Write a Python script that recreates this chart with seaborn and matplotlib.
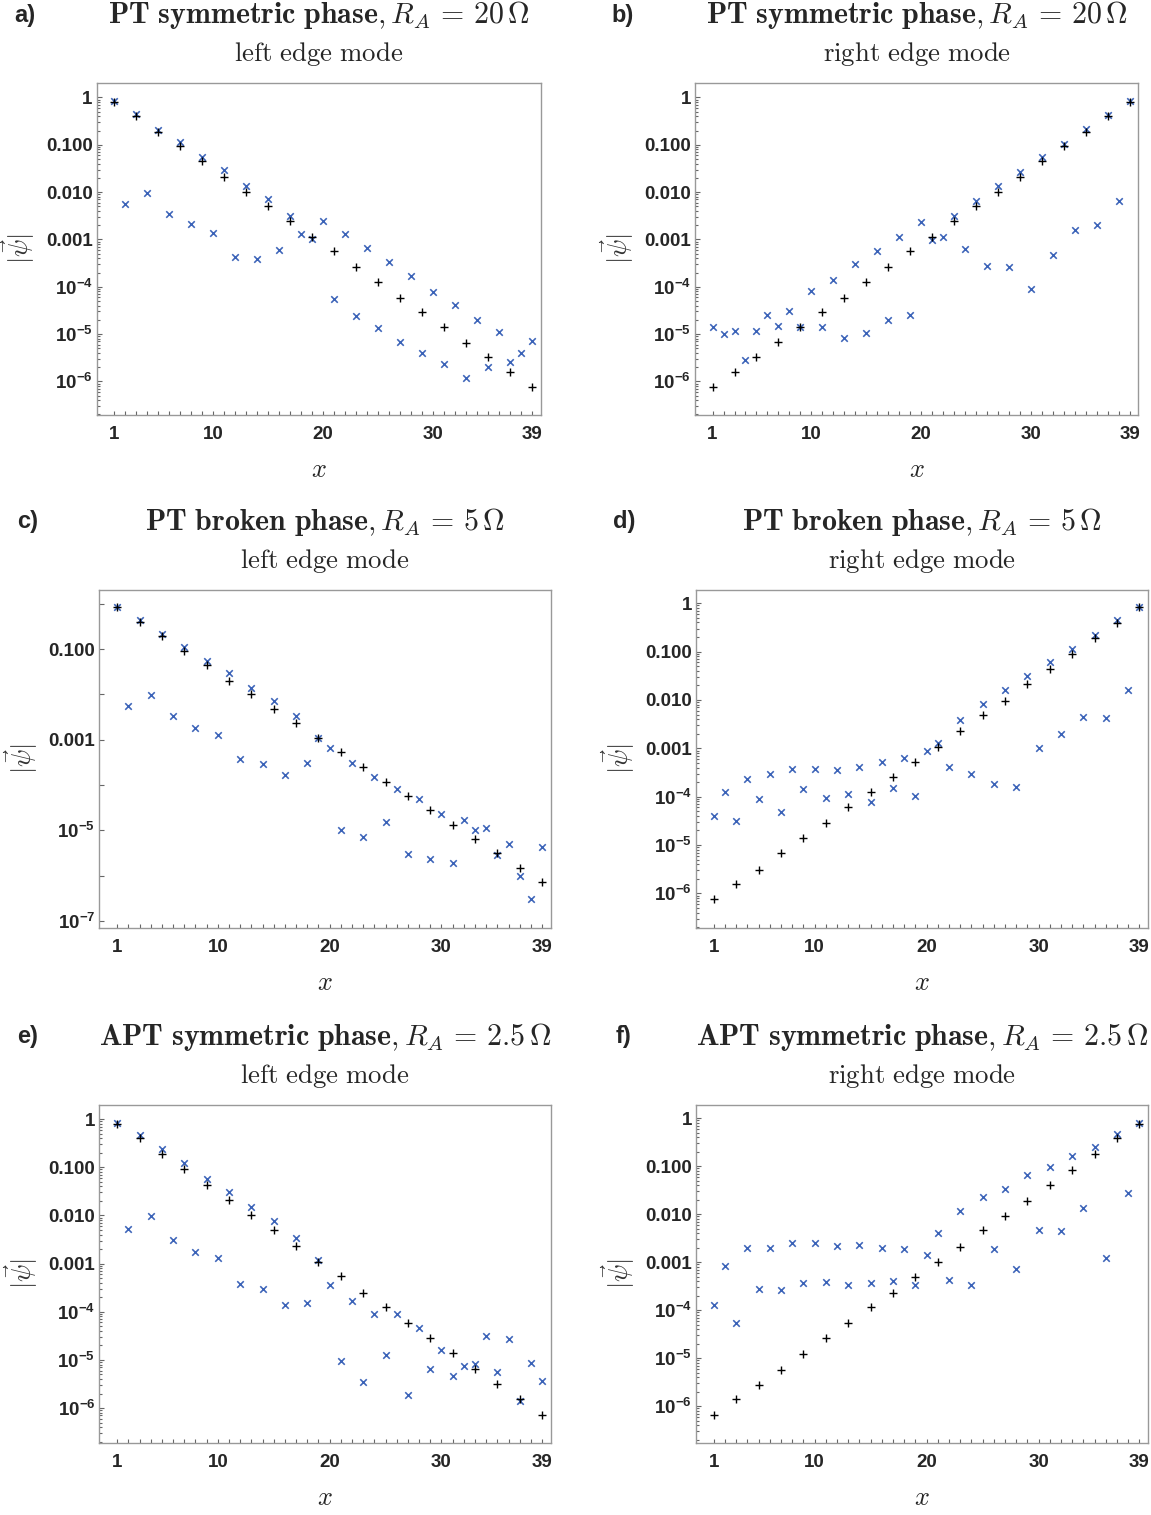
import numpy as np
import pandas as pd
import matplotlib
matplotlib.use("Agg")
import matplotlib.pyplot as plt
import matplotlib.ticker as mticker
import seaborn as sns

# ---------------------------------------------------------------- data
sites_all = list(range(1, 40))      # every lattice site
sites_odd = list(range(1, 40, 2))   # odd sites only

# a) PT symmetric, R_A = 20 Ohm, left edge mode
a_plus = [0.81, 0.40, 0.19, 0.095, 0.046, 0.021, 0.0103, 0.005, 0.0024, 0.00115,
          5.6e-4, 2.6e-4, 1.26e-4, 5.9e-5, 2.9e-5, 1.38e-5, 6.6e-6, 3.2e-6, 1.55e-6, 7.5e-7]
a_cross = [0.84, 0.0055, 0.44, 0.0098, 0.21, 0.0034, 0.114, 0.0021, 0.056, 0.00134,
           0.029, 4.2e-4, 0.0138, 3.9e-4, 0.0070, 6.0e-4, 0.0032, 0.00128, 0.00103, 0.0025,
           5.4e-5, 0.00128, 2.4e-5, 6.5e-4, 1.32e-5, 3.3e-4, 6.7e-6, 1.65e-4, 3.9e-6, 7.9e-5,
           2.3e-6, 4.2e-5, 1.2e-6, 2.0e-5, 2.0e-6, 1.09e-5, 2.6e-6, 3.9e-6, 7.0e-6]

# b) PT symmetric, R_A = 20 Ohm, right edge mode
b_plus = [7.6e-7, 1.55e-6, 3.2e-6, 6.7e-6, 1.4e-5, 2.9e-5, 5.9e-5, 1.24e-4, 2.6e-4, 5.6e-4,
          0.00115, 0.0025, 0.005, 0.0103, 0.021, 0.046, 0.095, 0.19, 0.40, 0.81]
b_cross = [1.4e-5, 9.8e-6, 1.14e-5, 2.8e-6, 1.14e-5, 2.5e-5, 1.5e-5, 3.0e-5, 1.4e-5, 8.0e-5,
           1.4e-5, 1.42e-4, 8.1e-6, 2.96e-4, 1.03e-5, 5.8e-4, 2.0e-5, 0.00115, 2.5e-5, 0.0023,
           9.5e-4, 0.00115, 0.0031, 6.2e-4, 0.0065, 2.8e-4, 0.0134, 2.6e-4, 0.026, 8.8e-5,
           0.055, 4.6e-4, 0.105, 0.00155, 0.22, 0.0020, 0.43, 0.0066, 0.84]

# c) PT broken, R_A = 5 Ohm, left edge mode
c_plus = [0.83, 0.39, 0.19, 0.092, 0.044, 0.020, 0.0102, 0.0047, 0.0023, 0.0011,
          5.3e-4, 2.5e-4, 1.18e-4, 5.6e-5, 2.8e-5, 1.3e-5, 6.5e-6, 3.2e-6, 1.47e-6, 7.4e-7]
c_cross = [0.84, 0.0055, 0.44, 0.0095, 0.22, 0.0033, 0.113, 0.0018, 0.054, 0.00125,
           0.029, 3.7e-4, 0.0135, 2.9e-4, 0.0070, 1.63e-4, 0.0033, 3.0e-4, 0.00107, 6.7e-4,
           1.0e-5, 3.0e-4, 7.0e-6, 1.48e-4, 1.5e-5, 8.1e-5, 3.0e-6, 4.8e-5, 2.3e-6, 2.3e-5,
           1.88e-6, 1.66e-5, 1.0e-5, 1.15e-5, 2.8e-6, 5.1e-6, 1.0e-6, 3.1e-7, 4.2e-6]

# d) PT broken, R_A = 5 Ohm, right edge mode
d_plus = [7.5e-7, 1.54e-6, 3.1e-6, 6.7e-6, 1.38e-5, 2.8e-5, 6.1e-5, 1.23e-4, 2.6e-4, 5.3e-4,
          0.00108, 0.0023, 0.0048, 0.0097, 0.021, 0.043, 0.088, 0.19, 0.39, 0.83]
d_cross = [3.9e-5, 1.23e-4, 3.1e-5, 2.3e-4, 8.8e-5, 2.9e-4, 4.8e-5, 3.7e-4, 1.44e-4, 3.7e-4,
           9.3e-5, 3.5e-4, 1.12e-4, 4.1e-4, 7.6e-5, 5.1e-4, 1.48e-4, 6.2e-4, 1.02e-4, 8.7e-4,
           0.00131, 4.1e-4, 0.0038, 2.9e-4, 0.0081, 1.8e-4, 0.0159, 1.56e-4, 0.032, 0.0010,
           0.060, 0.0020, 0.112, 0.0044, 0.22, 0.0042, 0.44, 0.0159, 0.85]

# e) APT symmetric, R_A = 2.5 Ohm, left edge mode
e_plus = [0.81, 0.40, 0.19, 0.090, 0.043, 0.021, 0.010, 0.0049, 0.0023, 0.0011,
          5.5e-4, 2.5e-4, 1.23e-4, 5.8e-5, 2.8e-5, 1.38e-5, 6.4e-6, 3.2e-6, 1.55e-6, 7.1e-7]
e_cross = [0.85, 0.0052, 0.46, 0.0097, 0.24, 0.0031, 0.122, 0.0017, 0.058, 0.00130,
           0.031, 3.7e-4, 0.015, 2.95e-4, 0.0076, 1.35e-4, 0.0034, 1.5e-4, 0.0012, 3.6e-4,
           9.5e-6, 1.66e-4, 3.5e-6, 8.8e-5, 1.24e-5, 9.0e-5, 1.87e-6, 4.6e-5, 6.5e-6, 1.6e-5,
           4.6e-6, 7.4e-6, 8.2e-6, 3.1e-5, 5.6e-6, 2.7e-5, 1.41e-6, 8.6e-6, 3.6e-6]

# f) APT symmetric, R_A = 2.5 Ohm, right edge mode
f_plus = [6.5e-7, 1.38e-6, 2.8e-6, 5.8e-6, 1.25e-5, 2.6e-5, 5.3e-5, 1.14e-4, 2.3e-4, 5.0e-4,
          0.00102, 0.0021, 0.0046, 0.0093, 0.019, 0.041, 0.085, 0.175, 0.38, 0.77]
f_cross = [1.26e-4, 8.5e-4, 5.5e-5, 0.0020, 2.7e-4, 0.0020, 2.6e-4, 0.0025, 3.6e-4, 0.0025,
           3.8e-4, 0.0022, 3.3e-4, 0.0023, 3.6e-4, 0.0020, 4.0e-4, 0.0019, 3.4e-4, 0.00138,
           0.0041, 4.2e-4, 0.0114, 3.3e-4, 0.023, 0.0019, 0.034, 7.1e-4, 0.064, 0.0046,
           0.098, 0.0044, 0.159, 0.0132, 0.245, 0.00125, 0.46, 0.027, 0.80]

panel_letters = ["a)", "b)", "c)", "d)", "e)", "f)"]
phase_titles = [r"$\mathbf{PT\ symmetric\ phase}, R_A\,=\,20\,\Omega$"] * 2 + \
               [r"$\mathbf{PT\ broken\ phase}, R_A\,=\,5\,\Omega$"] * 2 + \
               [r"$\mathbf{APT\ symmetric\ phase}, R_A\,=\,2.5\,\Omega$"] * 2
mode_titles = [r"$\mathrm{left\ edge\ mode}$", r"$\mathrm{right\ edge\ mode}$"] * 3
x_ticks = [1, 10, 20, 30, 39]

# ---------------------------------------------------------------- style
sns.set_style("ticks")
plt.rcParams["font.family"] = ["Liberation Sans", "DejaVu Sans"]
plt.rcParams["mathtext.fontset"] = "custom"
plt.rcParams["mathtext.rm"] = "Liberation Sans:bold"
plt.rcParams["mathtext.bf"] = "Liberation Sans:bold"
plt.rcParams["mathtext.it"] = "Liberation Sans:italic"

W, H = 1151, 1515
fig = plt.figure(figsize=(W / 100, H / 100), dpi=100)

FRAME = "#999999"
BLUE = "#3B63B8"

# axes boxes in pixels: left, top, right, bottom
boxes = [
    (96.7, 83.3, 540.7, 414.5),
    (695.0, 83.3, 1138.3, 414.5),
    (99.3, 589.7, 551.0, 927.7),
    (696.0, 589.7, 1148.3, 927.7),
    (99.3, 1104.7, 551.0, 1442.7),
    (696.0, 1104.7, 1148.3, 1442.7),
]
ylims = [(-6.70, 0.30), (-6.70, 0.30), (-7.15, 0.31),
         (-6.71, 0.28), (-6.72, 0.30), (-6.76, 0.28)]

series = [(a_plus, a_cross), (b_plus, b_cross), (c_plus, c_cross),
          (d_plus, d_cross), (e_plus, e_cross), (f_plus, f_cross)]


def decade_label(v, pos):
    e = int(round(np.log10(v)))
    fixed = {0: "1", -1: "0.100", -2: "0.010", -3: "0.001"}
    if e in fixed:
        return fixed[e]
    return r"$\mathbf{10^{%d}}$" % e


def sparse_label(v, pos):
    e = int(round(np.log10(v)))
    if e % 2 == 0:
        return ""
    return decade_label(v, pos)


for i, (box, (plus, cross)) in enumerate(zip(boxes, series)):
    l, t, r, b = box
    ax = fig.add_axes([l / W, 1 - b / H, (r - l) / W, (b - t) / H])

    df_cross = pd.DataFrame({"site": sites_all, "amp": cross})
    df_plus = pd.DataFrame({"site": sites_odd, "amp": plus})
    sns.scatterplot(data=df_cross, x="site", y="amp", marker="x", color=BLUE,
                    s=22, linewidth=1.15, ax=ax, zorder=3)
    sns.scatterplot(data=df_plus, x="site", y="amp", marker="+", color="black",
                    s=32, linewidth=1.0, ax=ax, zorder=4)

    ax.set_yscale("log")
    lo, hi = ylims[i]
    ax.set_ylim(10 ** lo, 10 ** hi)
    ax.set_xlim(-0.6, 39.8)

    ax.set_xticks(x_ticks)
    ax.set_xticks(sites_all, minor=True)
    ax.set_xticklabels([str(v) for v in x_ticks])

    if i == 2:
        ax.yaxis.set_major_locator(mticker.LogLocator(base=10, numticks=20))
        ax.yaxis.set_minor_locator(mticker.NullLocator())
        ax.yaxis.set_major_formatter(mticker.FuncFormatter(sparse_label))
    else:
        ax.yaxis.set_major_locator(mticker.LogLocator(base=10, numticks=20))
        ax.yaxis.set_minor_locator(mticker.LogLocator(base=10, subs=np.arange(2, 10), numticks=20))
        ax.yaxis.set_major_formatter(mticker.FuncFormatter(decade_label))
    ax.yaxis.set_minor_formatter(mticker.NullFormatter())

    for sp in ax.spines.values():
        sp.set_color(FRAME)
        sp.set_linewidth(1.0)
    ax.tick_params(axis="both", which="both", direction="in", color="#666666",
                   top=False, right=False, labelsize=13.5, width=0.8)
    ax.tick_params(axis="x", which="both", length=3.2, pad=8)
    ax.tick_params(axis="y", which="major", length=3.6, pad=3)
    ax.tick_params(axis="y", which="minor", length=2.0)
    for lab in ax.get_xticklabels() + ax.get_yticklabels():
        lab.set_fontweight("bold")

    ax.set_xlabel(r"$x$", fontsize=19, math_fontfamily="cm", labelpad=11)
    ax.set_ylabel(r"$|\vec{\psi}|$", fontsize=19, math_fontfamily="cm",
                  color="#333333", labelpad=6)

    cx = (l + r) / 2
    fig.text(cx / W, 1 - (t - 68) / H, phase_titles[i], fontsize=21.5,
             math_fontfamily="cm", ha="center", va="center")
    fig.text(cx / W, 1 - (t - 29) / H, mode_titles[i], fontsize=19.3,
             math_fontfamily="cm", ha="center", va="center")
    fig.text((l - 72) / W, 1 - (t - 68) / H, panel_letters[i], fontsize=17,
             fontweight="bold", ha="center", va="center")

fig.savefig("out.png", dpi=100)
